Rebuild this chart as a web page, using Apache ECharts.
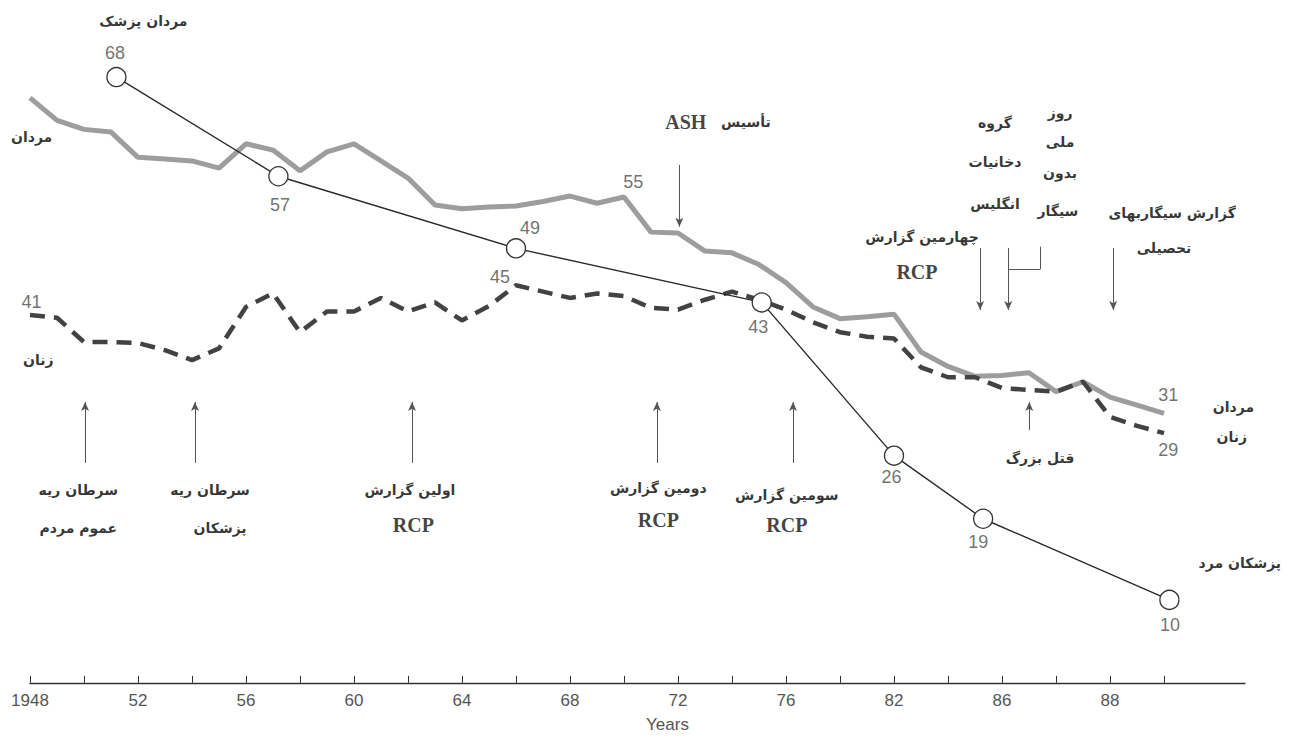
<!DOCTYPE html>
<html><head><meta charset="utf-8">
<script src="https://cdn.jsdelivr.net/npm/echarts@6/dist/echarts.min.js"></script>
<style>html,body{margin:0;padding:0;background:#fff}#c{width:1296px;height:745px}</style>
</head><body><div id="c"></div>
<script>
// x positions are in axis units (the printed axis is not linear in real years; the
// axis is drawn with even spacing and the printed labels below)
const years = [1948,1949,1950,1951,1952,1953,1954,1955,1956,1957,1958,1959,1960,1961,1962,1963,1964,1965,1966,1967,1968,1969,1970,1971,1972,1973,1974,1975,1976,1977,1978,1979,1980,1981,1982,1983,1984,1985,1986,1987,1988,1989,1990];
const men = [65.7,63.2,62.2,61.9,59.1,58.9,58.7,57.9,60.6,59.9,57.6,59.7,60.6,58.7,56.8,53.8,53.4,53.6,53.7,54.2,54.8,54.0,54.7,50.8,50.7,48.7,48.5,47.2,45.2,42.5,41.2,41.4,41.7,37.5,35.9,34.8,34.9,35.2,33.1,34.2,32.5,31.6,30.7];
const women = [41.6,41.3,38.6,38.6,38.5,37.7,36.6,37.9,42.5,44.0,39.7,42.0,42.0,43.5,42.0,43.0,41.0,42.6,44.9,44.2,43.5,44.0,43.7,42.4,42.2,43.3,44.2,43.3,42.2,40.8,39.7,39.2,39.0,35.8,34.7,34.7,33.5,33.3,33.1,34.2,30.3,29.3,28.5];
const physicianX = [1951.2,1957.2,1966.0,1975.1,1980.0,1983.3,1990.2];
const physicianRates = [68,57,49,43,26,19,10];
const tickValues = [1948,1952,1956,1960,1964,1968,1972,1976,1980,1984,1988];
const tickLabels = ['1948','52','56','60','64','68','72','76','82','86','88'];
const minorTicks = [1948,1950,1952,1954,1956,1958,1960,1962,1964,1966,1968,1970,1972,1974,1976,1978,1980,1982,1984,1986,1988,1990];

// annotations: [text, x, y (axis units), kind]
const notes = [
  ['مردان پزشک',1952.2,74.25,'fa'],
  ['مردان',1948.06,61.39,'fa'],
  ['زنان',1948.31,36.61,'fa'],
  ['گروه',1983.74,62.87,'fa'],
  ['دخانیات',1983.74,58.62,'fa'],
  ['انگلیس',1983.74,53.92,'fa'],
  ['روز',1986.15,64.02,'fa'],
  ['ملی',1986.15,60.8,'fa'],
  ['بدون',1986.15,57.36,'fa'],
  ['سیگار',1986.07,53.15,'fa'],
  ['گزارش سیگاربهای',1990.3,52.92,'fa'],
  ['تحصیلی',1990.0,49.04,'fa'],
  ['چهارمین گزارش',1981.04,50.26,'fa'],
  ['RCP',1980.85,46.38,'rcp'],
  ['ASH',1973.48,63.02,'ash'],
  ['سرطان ریه',1949.79,22.19,'fa'],
  ['عموم مردم',1949.79,17.94,'fa'],
  ['سرطان ریه',1954.67,22.19,'fa'],
  ['پزشکان',1955.04,17.94,'fa'],
  ['اولین گزارش',1962.07,22.19,'fa'],
  ['RCP',1962.2,18.31,'rcp'],
  ['دومین گزارش',1971.27,22.38,'fa'],
  ['RCP',1971.27,18.86,'rcp'],
  ['سومین گزارش',1976.03,21.64,'fa'],
  ['RCP',1976.03,18.31,'rcp'],
  ['قتل بزرگ',1985.41,25.71,'fa'],
  ['مردان',1992.57,31.43,'fa'],
  ['زنان',1992.51,28.1,'fa'],
  ['پزشکان مرد',1992.81,14.06,'fa'],
  ['65',1947.75,66.87,'num'],
  ['68',1951.15,70.64,'num'],
  ['57',1957.26,53.81,'num'],
  ['41',1948.06,43.08,'num'],
  ['49',1966.52,51.22,'num'],
  ['45',1965.41,45.86,'num'],
  ['55',1970.34,56.4,'num'],
  ['43',1974.97,40.31,'num'],
  ['31',1990.16,32.73,'num'],
  ['29',1990.16,26.63,'num'],
  ['26',1979.91,23.67,'num'],
  ['19',1983.12,16.45,'num'],
  ['10',1990.22,7.21,'num']
];
// arrows: [x, yFrom, yTo] (head at yTo)
const arrows = [
  [1950.04,25.19,31.96],[1954.11,25.19,31.96],[1962.15,25.19,31.96],[1971.22,25.19,31.96],[1976.26,25.19,31.96],
  [1983.19,49.04,42.16],[1984.23,49.04,42.16],[1988.12,49.04,42.16],
  [1972.05,58.25,51.40],[1985.01,28.85,31.95]
];
// plain connector lines: [[x1,y1],[x2,y2]]
const connectors = [
  [[1984.23,46.68],[1985.41,46.68]],
  [[1985.41,46.68],[1985.41,49.18]]
];

const kindStyle = {
  fa: {fontFamily:'DejaVu Sans', fontSize:14, fontWeight:'bold', color:'#000'},
  rcp: {fontFamily:'Liberation Serif', fontSize:20, fontWeight:'bold', color:'#111'},
  num: {fontFamily:'Liberation Sans', fontSize:18, color:'#4d4d4d'}
};

const noteData = notes.map(n => {
  const [text, x, y, kind] = n;
  let label;
  if (kind === 'ash') {
    label = {show:true, position:'inside', formatter:'{a|ASH}{b|   تأسیس}',
      rich:{a:{fontFamily:'Liberation Serif', fontSize:20, fontWeight:'bold', color:'#111'},
            b:{fontFamily:'DejaVu Sans', fontSize:14, fontWeight:'bold', color:'#000'}}};
  } else {
    label = Object.assign({show:true, position:'inside', formatter:text}, kindStyle[kind]);
  }
  return {value:[x,y], label};
});

const markData = arrows.map(a => [
  {coord:[a[0],a[1]], symbol:'none'},
  {coord:[a[0],a[2]], symbol:'arrow', symbolSize:[6,9]}
]).concat(connectors.map(c => [
  {coord:c[0], symbol:'none'},
  {coord:c[1], symbol:'none'}
]));

const chart = echarts.init(document.getElementById('c'), null, {renderer:'svg'});
chart.setOption({
  animation:false,
  backgroundColor:'#fff',
  grid:{left:30, right:51, top:14, bottom:62.2},
  xAxis:{
    type:'value', min:1948, max:1993,
    axisLine:{lineStyle:{color:'#333', width:1.3}},
    axisTick:{show:true, inside:true, length:7, customValues:minorTicks, lineStyle:{color:'#333', width:1}},
    axisLabel:{customValues:tickValues, margin:9, color:'#555', fontSize:17, fontFamily:'Liberation Sans',
      formatter:v => { const i = tickValues.indexOf(v); return i >= 0 ? tickLabels[i] : ''; }},
    splitLine:{show:false},
    name:'Years', nameLocation:'middle', nameGap:33,
    nameTextStyle:{color:'#555', fontSize:17, fontFamily:'Liberation Sans', padding:[0,0,0,60]}
  },
  yAxis:{type:'value', min:0.8, max:75, show:false, splitLine:{show:false}},
  series:[
    {type:'line', name:'men', data:years.map((y,i)=>[y,men[i]]), showSymbol:false, symbol:'none',
      lineStyle:{color:'#9d9d9d', width:5}, z:2},
    {type:'line', name:'women', data:years.map((y,i)=>[y,women[i]]), showSymbol:false, symbol:'none',
      lineStyle:{color:'#424242', width:4.5, type:[15,9]}, z:3},
    {type:'line', name:'physicians', data:physicianX.map((x,i)=>[x,physicianRates[i]]),
      symbol:'circle', symbolSize:19, showAllSymbol:true,
      itemStyle:{color:'#fff', borderColor:'#333', borderWidth:1.3},
      lineStyle:{color:'#2a2a2a', width:1.4}, z:5},
    {type:'scatter', name:'notes', data:noteData, symbol:'circle', symbolSize:1,
      itemStyle:{color:'rgba(0,0,0,0)'}, z:6, silent:true,
      markLine:{silent:true, symbol:['none','none'], label:{show:false},
        lineStyle:{color:'#555', width:1, type:'solid'}, data:markData}}
  ]
});
</script>
</body></html>
